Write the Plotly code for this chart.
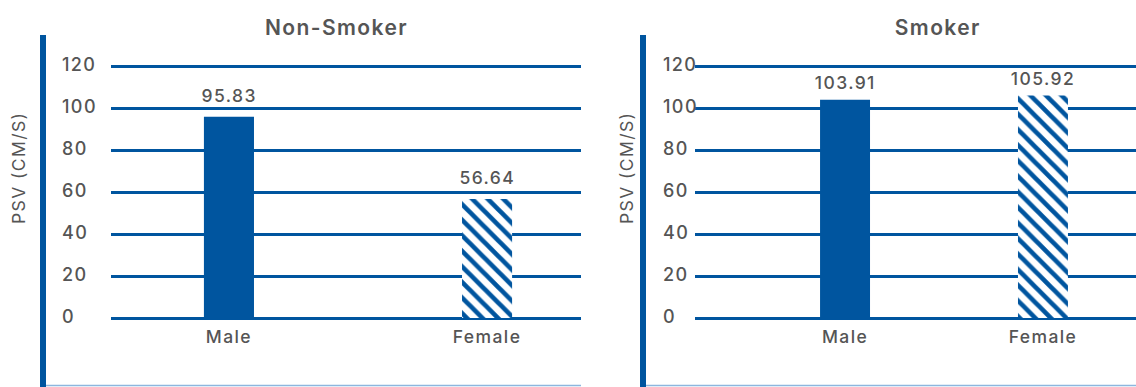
import plotly.graph_objects as go

# Data
categories = ["Male", "Female"]
non_smoker = [95.83, 56.64]
smoker = [103.91, 105.92]
y_ticks = [0, 20, 40, 60, 80, 100, 120]

BLUE = "#00559F"
LIGHT = "#8DB6DE"
GREY = "#555555"
FONT = "Inter"

W, H = 1136, 387

fig = go.Figure()

panels = [
    dict(vals=non_smoker, xa="x", ya="y", dom=(111, 581), rng=[-0.457, 1.364], bw=0.194,
         title="Non-Smoker", tx=336, shift=9, tickx=60, vline=43, titlex=18, lline=(46, 581)),
    dict(vals=smoker, xa="x2", ya="y2", dom=(695, 1136), rng=[-0.758, 1.47], bw=0.2525,
         title="Smoker", tx=938, shift=5, tickx=661, vline=643, titlex=626, lline=(646, 1136)),
]

y_range = [-3, 125]
y_dom = [(H - 324.3) / H, (H - 55.5) / H]

annotations = []
shapes = []
for i, p in enumerate(panels):
    xs = list(range(len(categories)))
    patterns = [dict(shape=""), dict(shape="\\", fgcolor=BLUE, bgcolor="white",
                                       size=11, solidity=0.42, fillmode="replace")]
    for j, (x, v) in enumerate(zip(xs, p["vals"])):
        fig.add_trace(go.Bar(
            x=[x], y=[v], width=p["bw"], xaxis=p["xa"], yaxis=p["ya"],
            marker=dict(color=BLUE if j == 0 else "white", line=dict(width=0),
                        pattern=patterns[j]),
            showlegend=False, hoverinfo="skip",
        ))
        annotations.append(dict(
            x=x, y=v, xref=p["xa"], yref=p["ya"], text=f"{v:.2f}",
            showarrow=False, yanchor="bottom", yshift=p["shift"],
            font=dict(family=FONT, size=17.5, color=GREY, weight=500),
        ))
    # left-aligned y tick labels
    for t in y_ticks:
        annotations.append(dict(
            x=p["tickx"] / W, y=t, xref="paper", yref=p["ya"], text=str(t),
            showarrow=False, xanchor="left", align="left", yanchor="middle", yshift=2,
            font=dict(family=FONT, size=18, color=GREY, weight=500),
        ))
    # panel title
    annotations.append(dict(
        x=p["tx"] / W, y=(H - 27) / H, xref="paper", yref="paper", text=p["title"],
        showarrow=False, xanchor="center", yanchor="middle",
        font=dict(family=FONT, size=21, color=GREY, weight=600),
    ))
    # y axis title
    annotations.append(dict(
        x=p["titlex"] / W, y=(H - 168) / H, xref="paper", yref="paper", text="PSV (CM/S)",
        showarrow=False, textangle=-90, xanchor="center", yanchor="middle",
        font=dict(family=FONT, size=17.5, color=GREY),
    ))
    # panel frame: thick left rule and thin bottom rule
    shapes.append(dict(type="line", xref="paper", yref="paper",
                       x0=p["vline"] / W, x1=p["vline"] / W, y0=0, y1=(H - 35) / H,
                       line=dict(color=BLUE, width=6)))
    shapes.append(dict(type="line", xref="paper", yref="paper",
                       x0=p["lline"][0] / W, x1=p["lline"][1] / W,
                       y0=1.5 / H, y1=1.5 / H,
                       line=dict(color=LIGHT, width=1.5)))

    xkey = "xaxis" if i == 0 else "xaxis2"
    ykey = "yaxis" if i == 0 else "yaxis2"
    fig.update_layout(**{
        xkey: dict(domain=[p["dom"][0] / W, p["dom"][1] / W], range=p["rng"],
                   tickvals=xs, ticktext=categories, showgrid=False, zeroline=False,
                   showline=False, ticks="", anchor=p["ya"],
                   tickfont=dict(family=FONT, size=17.5, color=GREY, weight=500)),
        ykey: dict(domain=y_dom, range=y_range, tickvals=y_ticks, showticklabels=False,
                   showgrid=True, gridcolor=BLUE, gridwidth=3, zeroline=False,
                   showline=False, anchor=p["xa"]),
    })

fig.update_layout(
    width=W, height=H, margin=dict(l=0, r=0, t=0, b=0),
    plot_bgcolor="white", paper_bgcolor="white",
    barmode="overlay", annotations=annotations, shapes=shapes,
    font=dict(family=FONT, color=GREY),
)

# tracked-out lettering for all chart text
spacing_css = (
    "var s=document.createElement('style');"
    "s.textContent='.main-svg text{letter-spacing:1.4px}';"
    "document.head.appendChild(s);"
)
fig.write_html("out.html", post_script=spacing_css)
